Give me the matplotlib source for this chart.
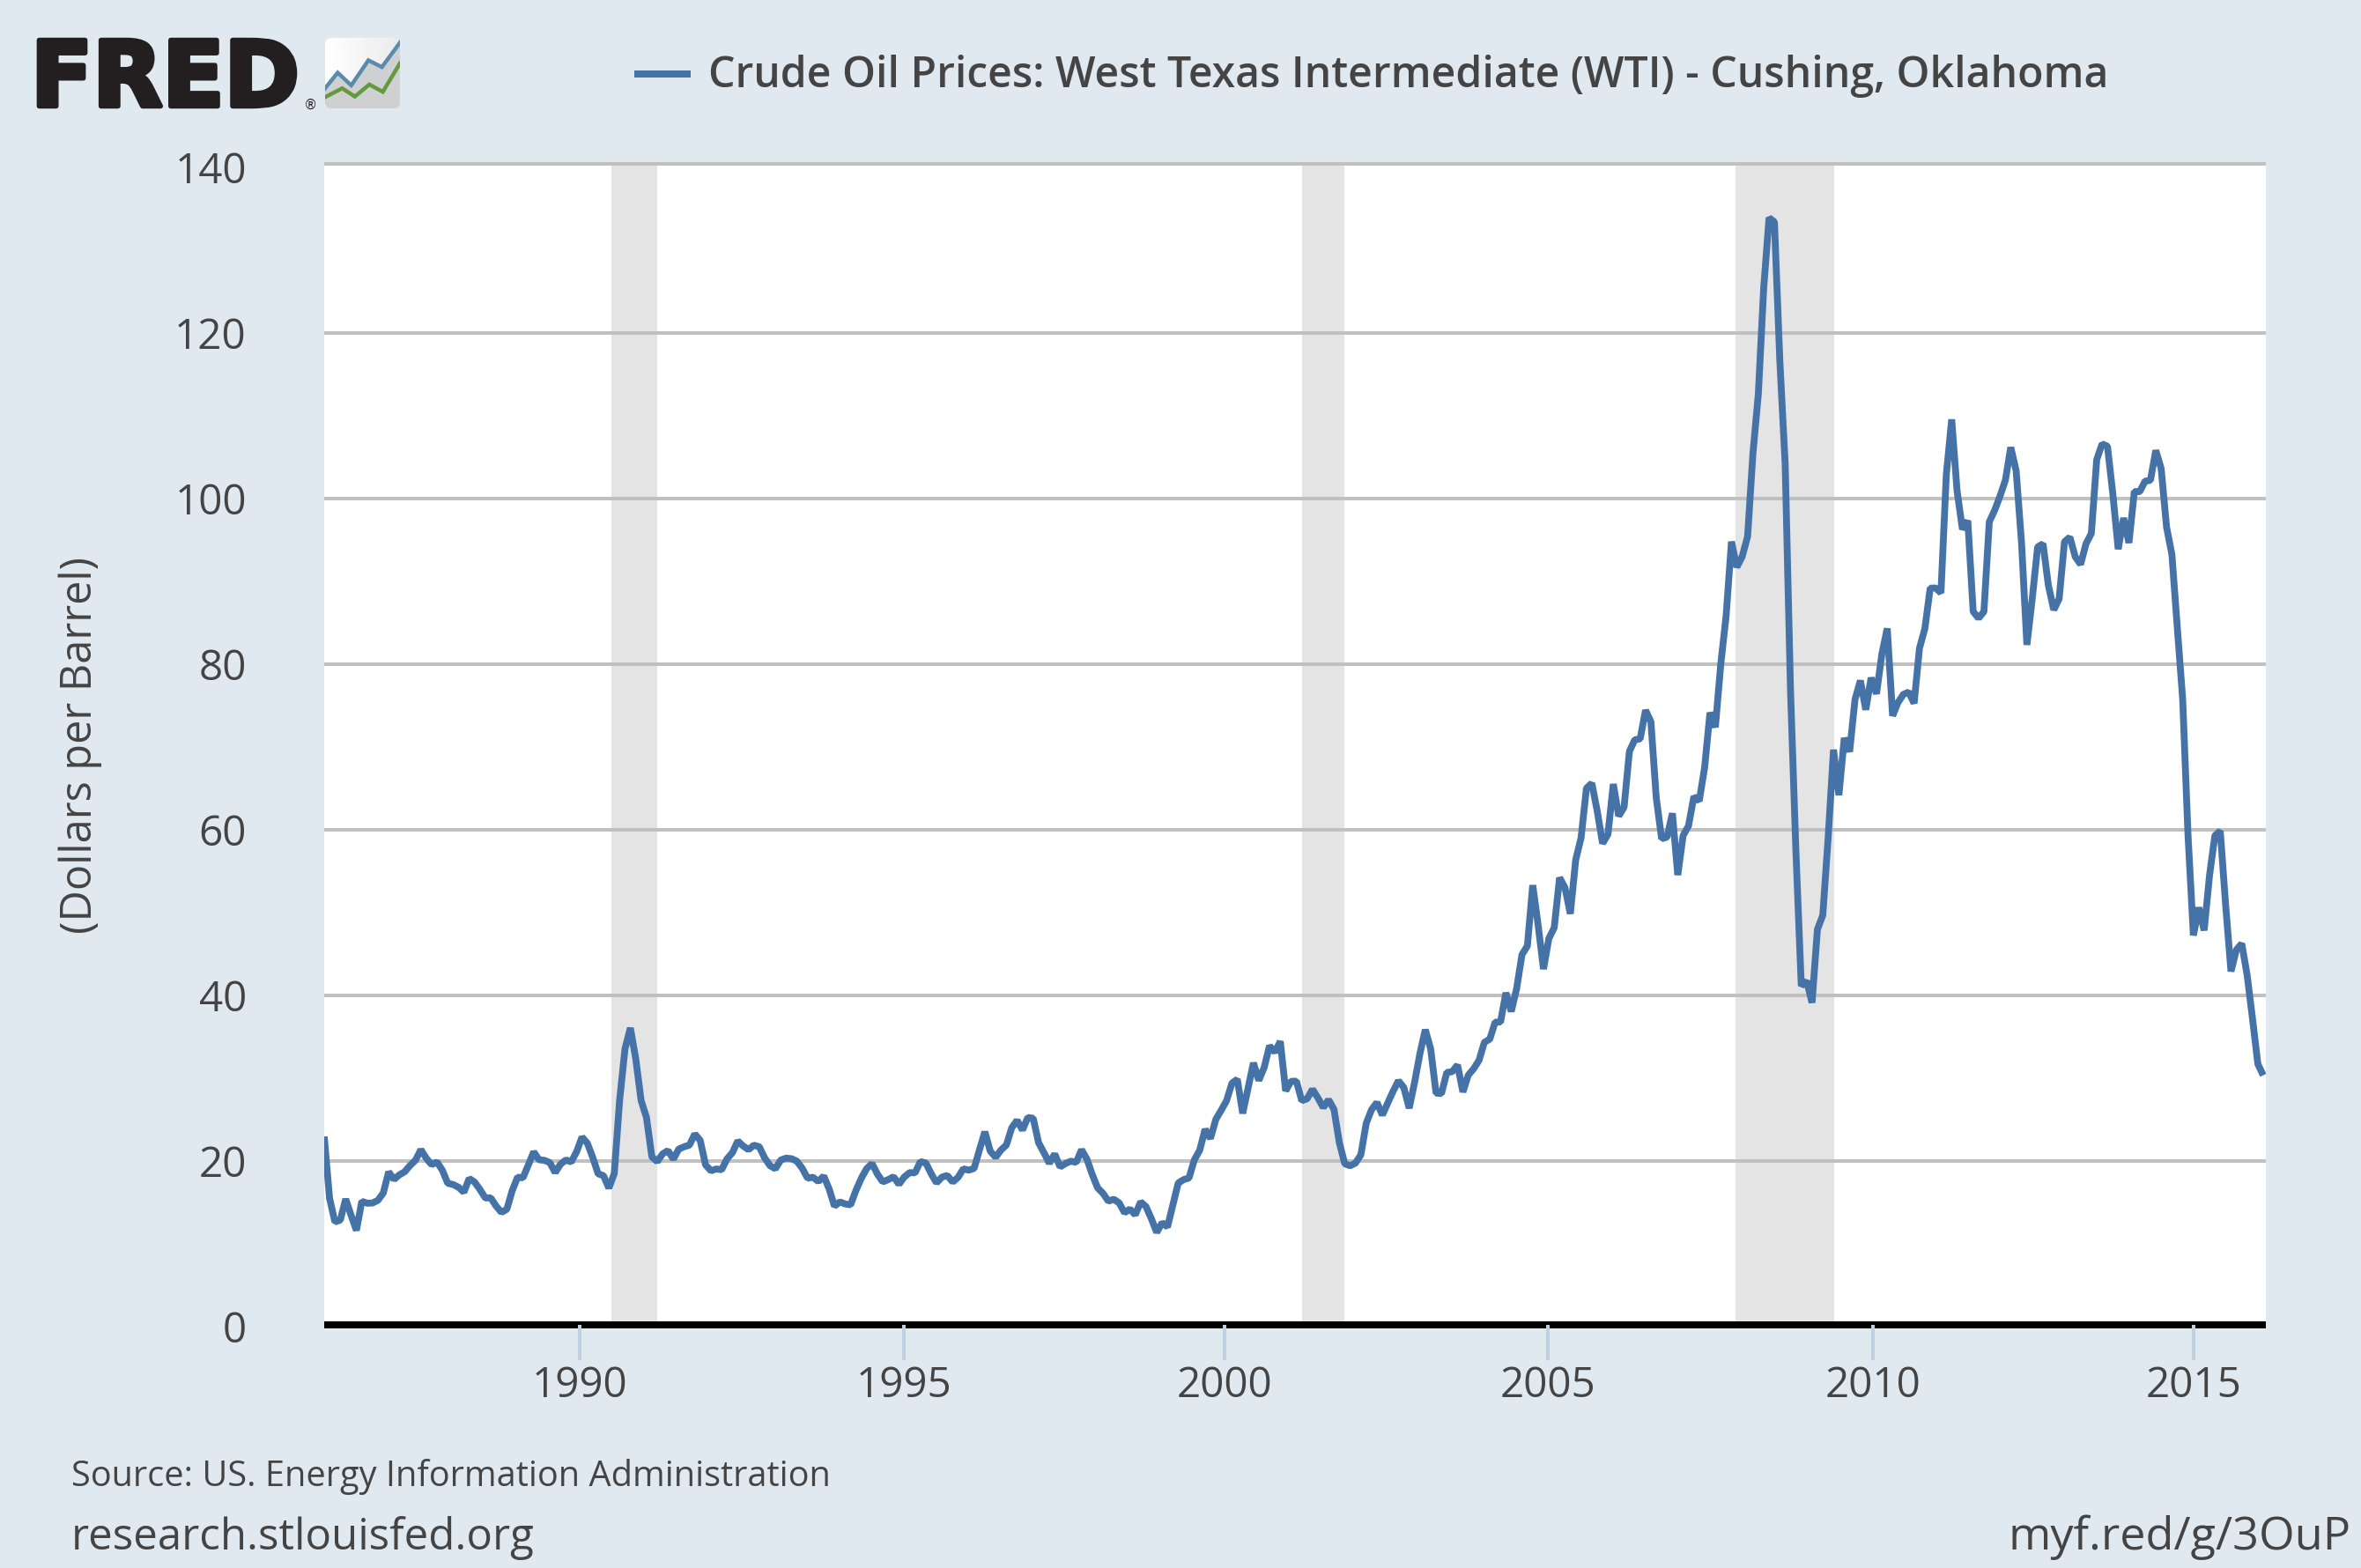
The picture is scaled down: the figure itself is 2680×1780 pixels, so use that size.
import numpy as np
import matplotlib
matplotlib.use("Agg")
import matplotlib.pyplot as plt
from matplotlib import patheffects as pe
from matplotlib.patches import FancyBboxPatch, Polygon

W, H = 2680, 1780
BG = "#e1e9f0"
INK = "#444444"
LINE = "#4572a7"

wti_1986 = [22.93,15.46,12.61,12.84,15.38,13.43,11.59,15.10,14.87,14.90,15.22,16.11]
wti_1987 = [18.65,17.75,18.30,18.68,19.44,20.07,21.34,20.31,19.53,19.86,18.85,17.28]
wti_1988 = [17.13,16.80,16.20,17.86,17.42,16.53,15.50,15.52,14.54,13.77,14.14,16.38]
wti_1989 = [18.02,17.94,19.48,21.07,20.12,20.05,19.78,18.58,19.59,20.10,19.86,21.10]
wti_1990 = [22.86,22.11,20.39,18.43,18.20,16.70,18.45,27.31,33.51,36.04,32.33,27.28]
wti_1991 = [25.23,20.48,19.90,20.83,21.23,20.19,21.40,21.69,21.89,23.23,22.46,19.50]
wti_1992 = [18.79,19.01,18.92,20.23,20.98,22.39,21.78,21.34,21.88,21.69,20.34,19.41]
wti_1993 = [19.03,20.09,20.32,20.25,19.95,19.09,17.89,18.01,17.50,18.15,16.61,14.52]
wti_1994 = [15.03,14.78,14.68,16.42,17.89,19.06,19.66,18.38,17.45,17.72,18.07,17.16]
wti_1995 = [18.04,18.57,18.54,19.90,19.74,18.45,17.33,18.02,18.23,17.43,17.99,19.03]
wti_1996 = [18.86,19.09,21.33,23.50,21.17,20.42,21.30,21.90,23.97,24.88,23.71,25.23]
wti_1997 = [25.13,22.18,20.97,19.70,20.82,19.26,19.66,19.95,19.80,21.33,20.19,18.33]
wti_1998 = [16.72,16.06,15.12,15.35,14.91,13.72,14.17,13.47,15.03,14.46,13.00,11.35]
wti_1999 = [12.52,12.01,14.68,17.31,17.72,17.92,20.10,21.28,23.80,22.69,25.00,26.10]
wti_2000 = [27.26,29.37,29.84,25.72,28.79,31.82,29.70,31.26,33.88,33.11,34.42,28.44]
wti_2001 = [29.59,29.61,27.25,27.49,28.63,27.60,26.43,27.37,26.20,22.17,19.64,19.39]
wti_2002 = [19.72,20.72,24.53,26.18,27.04,25.52,26.97,28.39,29.66,28.84,26.35,29.46]
wti_2003 = [32.95,35.83,33.51,28.17,28.11,30.66,30.76,31.57,28.31,30.34,31.11,32.13]
wti_2004 = [34.31,34.69,36.74,36.75,40.28,38.03,40.78,44.90,45.94,53.28,48.47,43.15]
wti_2005 = [46.84,48.15,54.19,52.98,49.83,56.35,59.00,64.99,65.59,62.26,58.32,59.41]
wti_2006 = [65.49,61.63,62.69,69.44,70.84,70.95,74.41,73.04,63.80,58.89,59.08,61.96]
wti_2007 = [54.51,59.28,60.44,63.98,63.46,67.49,74.12,72.36,79.92,85.80,94.77,91.69]
wti_2008 = [92.97,95.39,105.45,112.58,125.40,133.88,133.37,116.67,104.11,76.61,57.31,41.12]
wti_2009 = [41.71,39.09,47.94,49.65,59.03,69.64,64.15,71.05,69.41,75.72,77.99,74.47]
wti_2010 = [78.33,76.39,81.20,84.29,73.74,75.34,76.32,76.60,75.24,81.89,84.25,89.15]
wti_2011 = [89.17,88.58,102.86,109.53,100.90,96.26,97.30,86.33,85.52,86.32,97.16,98.56]
wti_2012 = [100.27,102.20,106.16,103.32,94.66,82.30,87.90,94.13,94.51,89.49,86.53,87.86]
wti_2013 = [94.76,95.31,92.94,92.02,94.51,95.77,104.67,106.57,106.29,100.54,93.86,97.63]
wti_2014 = [94.62,100.82,100.80,102.07,102.18,105.79,103.59,96.54,93.21,84.40,75.79,59.29]
wti_2015 = [47.22,50.58,47.82,54.45,59.27,59.82,50.90,42.87,45.48,46.22,42.44,37.19]
wti_2016 = [31.68,30.32]

prices = (wti_1986 + wti_1987 + wti_1988 + wti_1989 + wti_1990 + wti_1991 + wti_1992
          + wti_1993 + wti_1994 + wti_1995 + wti_1996 + wti_1997 + wti_1998 + wti_1999
          + wti_2000 + wti_2001 + wti_2002 + wti_2003 + wti_2004 + wti_2005 + wti_2006
          + wti_2007 + wti_2008 + wti_2009 + wti_2010 + wti_2011 + wti_2012 + wti_2013
          + wti_2014 + wti_2015 + wti_2016)
months = np.arange(len(prices))  # months since January 1986

tick_labels = ["1990", "1995", "2000", "2005", "2010", "2015"]
tick_months = [47.5, 107.9, 167.6, 227.8, 288.3, 348.0]
recession_start = [53.5, 182.0, 262.8]
recession_end = [62.0, 189.9, 281.1]
y_ticks = [0, 20, 40, 60, 80, 100, 120, 140]

plt.rcParams["font.family"] = ["Open Sans", "DejaVu Sans"]

fig = plt.figure(figsize=(W / 100, H / 100), dpi=100, facecolor=BG)


def fx(x):
    return x / W


def fy(y):
    return 1 - y / H


ax = fig.add_axes([fx(368), fy(1505.7), 2204 / W, (1505.7 - 186) / H], facecolor="white")
ax.set_xlim(0, 2204 / 6.097)
ax.set_ylim(0, (1505.7 - 186) / 9.4)

for a, b in zip(recession_start, recession_end):
    ax.axvspan(a, b, color="#e4e4e4", lw=0, zorder=1)

ax.set_yticks(y_ticks)
ax.yaxis.grid(True, color="#c0c0c0", lw=2.88, zorder=1.5)
ax.set_axisbelow(False)
gl = ax.get_ygridlines()
gl[0].set_visible(False)
gl[-1].set_visible(False)
for g in gl:
    g.set_zorder(1.5)

ax.plot(months, prices, color=LINE, lw=5.6, solid_joinstyle="bevel",
        solid_capstyle="butt", zorder=3)

ax.set_xticks(tick_months)
ax.set_xticklabels(tick_labels)
ax.tick_params(axis="x", length=28.8, width=2.88, color="#c0d0e0", pad=4,
               labelsize=34.3, labelcolor=INK)
ax.tick_params(axis="y", length=0, pad=63.5, labelsize=34.3, labelcolor=INK)
for s in ("left", "right"):
    ax.spines[s].set_visible(False)
ax.spines["top"].set_color("#c0c0c0")
ax.spines["top"].set_linewidth(2.88)
ax.spines["top"].set_capstyle("butt")
ax.spines["bottom"].set_color("black")
ax.spines["bottom"].set_linewidth(5.76)
ax.spines["bottom"].set_capstyle("butt")
ax.spines["bottom"].set_position(("outward", -1.22))

# y axis title
fig.text(fx(104), fy(846), "(Dollars per Barrel)", rotation=90, ha="center", va="baseline",
         rotation_mode="anchor", fontsize=35, color=INK)

# legend
fig.add_artist(plt.Line2D([fx(720), fx(784)], [fy(84), fy(84)], color=LINE, lw=5.76,
                          solid_capstyle="butt"))
fig.text(fx(804), fy(99), "Crude Oil Prices: West Texas Intermediate (WTI) - Cushing, Oklahoma",
         ha="left", va="baseline", fontsize=34.7, color=INK, fontweight="semibold")

# footer
fig.text(fx(81), fy(1687), "Source: US. Energy Information Administration", ha="left",
         va="baseline", fontsize=28.6, color=INK)
fig.text(fx(81), fy(1759), "research.stlouisfed.org", ha="left", va="baseline",
         fontsize=35.4, color=INK)
fig.text(fx(2669), fy(1759), "myf.red/g/3OuP", ha="right", va="baseline",
         fontsize=37.6, color=INK)

# FRED logo
fig.text(fx(35), fy(120.5), "FRED", ha="left", va="baseline", fontsize=74,
         family="DejaVu Sans", fontweight="bold", color="#231f20",
         path_effects=[pe.withStroke(linewidth=4, foreground="#231f20")])
fig.text(fx(345), fy(124), "®", ha="left", va="baseline", fontsize=11,
         family="DejaVu Sans", color="#231f20")

icon = fig.add_axes([fx(369), fy(123), 85 / W, 80 / H])
icon.set_xlim(724, 890)
icon.set_ylim(368, 129)
icon.axis("off")
box = FancyBboxPatch((724, 129), 166, 239, boxstyle="round,pad=0,rounding_size=14",
                     mutation_aspect=1.44, fc="#cfd0d2", ec="none")
icon.add_patch(box)
grad = np.linspace(1, 0.92, 64).reshape(1, -1)
im = icon.imshow(grad, extent=[724, 890, 368, 129], cmap="gray", vmin=0, vmax=1,
                 aspect="auto", zorder=1)
im.set_clip_path(box)
blue_x = [724, 752, 782, 820, 850, 890]
blue_y = [300, 247, 290, 205, 228, 145]
green_x = [724, 762, 790, 822, 852, 890]
green_y = [330, 300, 328, 287, 312, 215]
under = Polygon(list(zip(blue_x, blue_y)) + [(890, 368), (724, 368)], fc="#cfd0d2", ec="none", zorder=2)
icon.add_patch(under)
under.set_clip_path(box)
icon.plot(blue_x, blue_y, color="#5b8bab", lw=3.2, zorder=3, solid_joinstyle="miter")
icon.plot(green_x, green_y, color="#649a3d", lw=3.2, zorder=3, solid_joinstyle="miter")
icon.set_xlim(724, 890)
icon.set_ylim(368, 129)

fig.savefig("out.png", dpi=100, facecolor=BG)
